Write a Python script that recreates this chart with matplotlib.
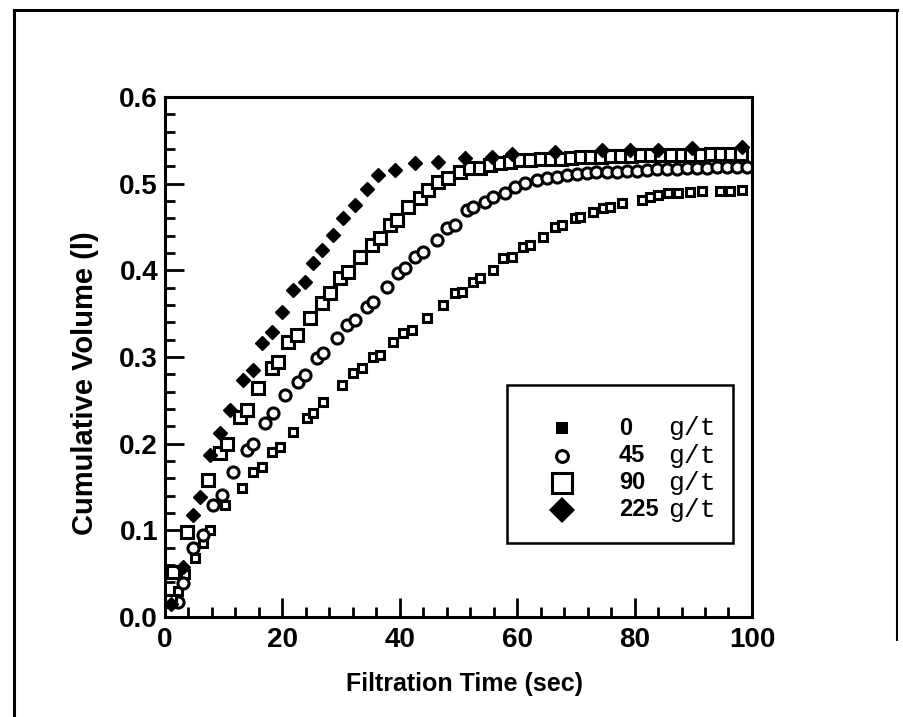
import numpy as np
import matplotlib.pyplot as plt
from matplotlib.lines import Line2D
from matplotlib.patches import Rectangle
from matplotlib.ticker import MultipleLocator

plt.rcParams["font.family"] = ["Liberation Sans", "DejaVu Sans"]

# 0 g/t (filled square in legend)
t0 = [0.9, 2.2, 3.4, 5.1, 6.5, 7.7, 10.2, 13.1, 15.0, 16.5, 18.2, 19.6, 21.8,
      24.2, 25.2, 26.9, 30.2, 32.0, 33.6, 35.4, 36.6, 38.8, 40.5, 42.1, 44.6,
      47.4, 49.4, 50.6, 52.5, 53.7, 55.9, 57.6, 59.1, 61.0, 62.2, 64.4, 66.4,
      67.6, 69.8, 70.7, 72.9, 74.6, 75.8, 77.9, 81.3, 82.6, 84.0, 85.7, 87.4,
      89.4, 91.5, 94.5, 96.3, 98.3]
v0 = [0.020, 0.030, 0.050, 0.068, 0.085, 0.100, 0.129, 0.149, 0.167, 0.173,
      0.190, 0.196, 0.213, 0.230, 0.235, 0.248, 0.268, 0.281, 0.287, 0.300,
      0.302, 0.317, 0.328, 0.331, 0.345, 0.360, 0.374, 0.375, 0.387, 0.391,
      0.400, 0.414, 0.415, 0.427, 0.429, 0.438, 0.450, 0.452, 0.460, 0.462,
      0.467, 0.472, 0.473, 0.478, 0.481, 0.485, 0.487, 0.489, 0.489, 0.490,
      0.492, 0.492, 0.492, 0.493]

# 45 g/t (open circle)
t45 = [2.2, 3.1, 4.8, 6.5, 8.2, 9.7, 11.6, 14.0, 15.0, 17.0, 18.4, 20.4, 22.7,
       23.9, 25.9, 26.9, 29.3, 31.0, 32.4, 34.4, 35.4, 37.8, 39.7, 40.9, 42.6,
       44.0, 46.3, 48.0, 49.4, 51.4, 52.5, 54.5, 55.9, 57.9, 59.6, 61.3, 63.4,
       65.1, 66.8, 68.5, 70.2, 71.9, 73.5, 75.3, 77.0, 78.7, 80.4, 82.1, 83.8,
       85.5, 87.2, 88.9, 90.6, 92.3, 94.0, 95.8, 97.5, 99.2]
v45 = [0.017, 0.039, 0.080, 0.095, 0.129, 0.141, 0.167, 0.193, 0.200, 0.224,
       0.235, 0.256, 0.271, 0.279, 0.299, 0.305, 0.322, 0.337, 0.343, 0.358,
       0.363, 0.381, 0.397, 0.403, 0.415, 0.421, 0.435, 0.449, 0.452, 0.470,
       0.473, 0.479, 0.485, 0.489, 0.496, 0.501, 0.504, 0.507, 0.508, 0.510,
       0.511, 0.512, 0.513, 0.513, 0.514, 0.515, 0.515, 0.516, 0.517, 0.517,
       0.517, 0.518, 0.518, 0.518, 0.519, 0.519, 0.519, 0.519]

# 90 g/t (open square)
t90 = [0.8, 1.4, 3.7, 7.3, 9.4, 10.6, 12.8, 14.0, 15.8, 18.2, 19.3, 21.0, 22.5,
       24.7, 26.7, 28.1, 29.8, 31.2, 33.2, 35.3, 36.6, 38.3, 39.5, 41.4, 43.4,
       44.8, 46.5, 48.2, 50.3, 52.0, 53.7, 55.4, 57.1, 58.8, 60.5, 62.2, 64.0,
       65.7, 67.4, 69.1, 70.8, 72.5, 74.2, 76.0, 77.7, 79.4, 81.1, 82.8, 84.5,
       86.2, 88.0, 89.7, 91.4, 93.1, 94.8, 96.5, 98.2]
v90 = [0.018, 0.052, 0.098, 0.158, 0.189, 0.200, 0.231, 0.239, 0.264, 0.287,
       0.294, 0.317, 0.325, 0.345, 0.362, 0.374, 0.391, 0.398, 0.415, 0.429,
       0.437, 0.452, 0.458, 0.473, 0.483, 0.493, 0.502, 0.507, 0.513, 0.518,
       0.518, 0.521, 0.524, 0.525, 0.527, 0.527, 0.528, 0.529, 0.529, 0.530,
       0.531, 0.531, 0.531, 0.532, 0.532, 0.532, 0.533, 0.533, 0.533, 0.533,
       0.533, 0.533, 0.533, 0.534, 0.534, 0.534, 0.534]

# 225 g/t (filled diamond)
t225 = [1.0, 3.1, 4.8, 6.0, 7.7, 9.4, 11.1, 13.3, 15.0, 16.5, 18.2, 19.9, 21.8,
        23.9, 25.2, 26.7, 28.6, 30.3, 32.4, 34.4, 36.3, 39.2, 42.6, 46.5, 51.1,
        55.7, 59.1, 66.4, 74.4, 79.2, 84.0, 89.8, 98.3]
v225 = [0.015, 0.058, 0.118, 0.138, 0.187, 0.212, 0.239, 0.273, 0.285, 0.316,
        0.329, 0.352, 0.377, 0.387, 0.408, 0.423, 0.441, 0.460, 0.475, 0.494,
        0.510, 0.516, 0.524, 0.525, 0.530, 0.531, 0.534, 0.537, 0.539, 0.539,
        0.539, 0.541, 0.542]

doses = ["0", "45", "90", "225"]
xticks = [0, 20, 40, 60, 80, 100]
yticks = [0.0, 0.1, 0.2, 0.3, 0.4, 0.5, 0.6]

fig = plt.figure(figsize=(9.04, 7.17), dpi=100)
ax = fig.add_axes([0.1825, 0.1395, 0.6493, 0.7252])

ax.plot(t0, v0, ls="none", marker="s", ms=6, mfc="white", mec="black", mew=2.2)
ax.plot(t45, v45, ls="none", marker="o", ms=8, mfc="white", mec="black", mew=2.2)
ax.plot(t90, v90, ls="none", marker="s", ms=8, mfc="white", mec="black", mew=2.2)
ax.plot(t225, v225, ls="none", marker="D", ms=7.5, mfc="black", mec="black", mew=1)

ax.set_xlim(0, 100)
ax.set_ylim(0, 0.6)
ax.set_xticks(xticks)
ax.set_xticklabels([str(v) for v in xticks], fontweight="bold")
ax.set_yticks(yticks)
ax.set_yticklabels([f"{v:.1f}" for v in yticks], fontweight="bold")
ax.xaxis.set_minor_locator(MultipleLocator(4))
ax.yaxis.set_minor_locator(MultipleLocator(0.02))
ax.tick_params(which="both", direction="in", top=False, right=False, width=2)
ax.tick_params(which="major", length=14, labelsize=20)
ax.tick_params(axis="x", which="major", pad=7)
ax.tick_params(axis="y", which="major", pad=5)
ax.tick_params(which="minor", length=7)
for s in ax.spines.values():
    s.set_linewidth(2.2)

ax.set_xlabel("Filtration Time (sec)", fontsize=18, fontweight="bold")
ax.set_ylabel("Cumulative Volume (l)", fontsize=21, fontweight="bold")
ax.xaxis.set_label_coords(0.51, -0.105)
ax.yaxis.set_label_coords(-0.113, 0.45)

# legend box drawn by hand (mixed fonts)
ax.add_patch(Rectangle((0.583, 0.142), 0.385, 0.304, transform=ax.transAxes,
                       fill=False, lw=1.8, ec="black", zorder=5))
leg_y = [0.363, 0.310, 0.258, 0.206]
leg_style = [dict(marker="s", ms=8.5, mfc="black", mew=0),
             dict(marker="o", ms=8.5, mfc="white", mec="black", mew=2.2),
             dict(marker="s", ms=14, mfc="white", mec="black", mew=2.2),
             dict(marker="D", ms=13.5, mfc="black", mec="black", mew=0)]
for y, d, st in zip(leg_y, doses, leg_style):
    ax.add_line(Line2D([0.676], [y], transform=ax.transAxes, ls="none",
                       color="black", zorder=6, **st))
    ax.text(0.773, y, d, transform=ax.transAxes, fontsize=17, fontweight="bold",
            va="center", ha="left")
    ax.text(0.858, y, "g/t", transform=ax.transAxes, fontsize=19,
            family="Liberation Mono", va="center", ha="left")

# scan frame around the page
fig.add_artist(Line2D([14 / 904, 14 / 904], [0, 1 - 10 / 717], color="black", lw=2.2))
fig.add_artist(Line2D([14 / 904, 897 / 904], [1 - 10 / 717, 1 - 10 / 717], color="black", lw=2.2))
fig.add_artist(Line2D([897 / 904, 897 / 904], [1 - 10 / 717, 1 - 640 / 717], color="black", lw=1.5))

fig.savefig("out.png", dpi=100)
